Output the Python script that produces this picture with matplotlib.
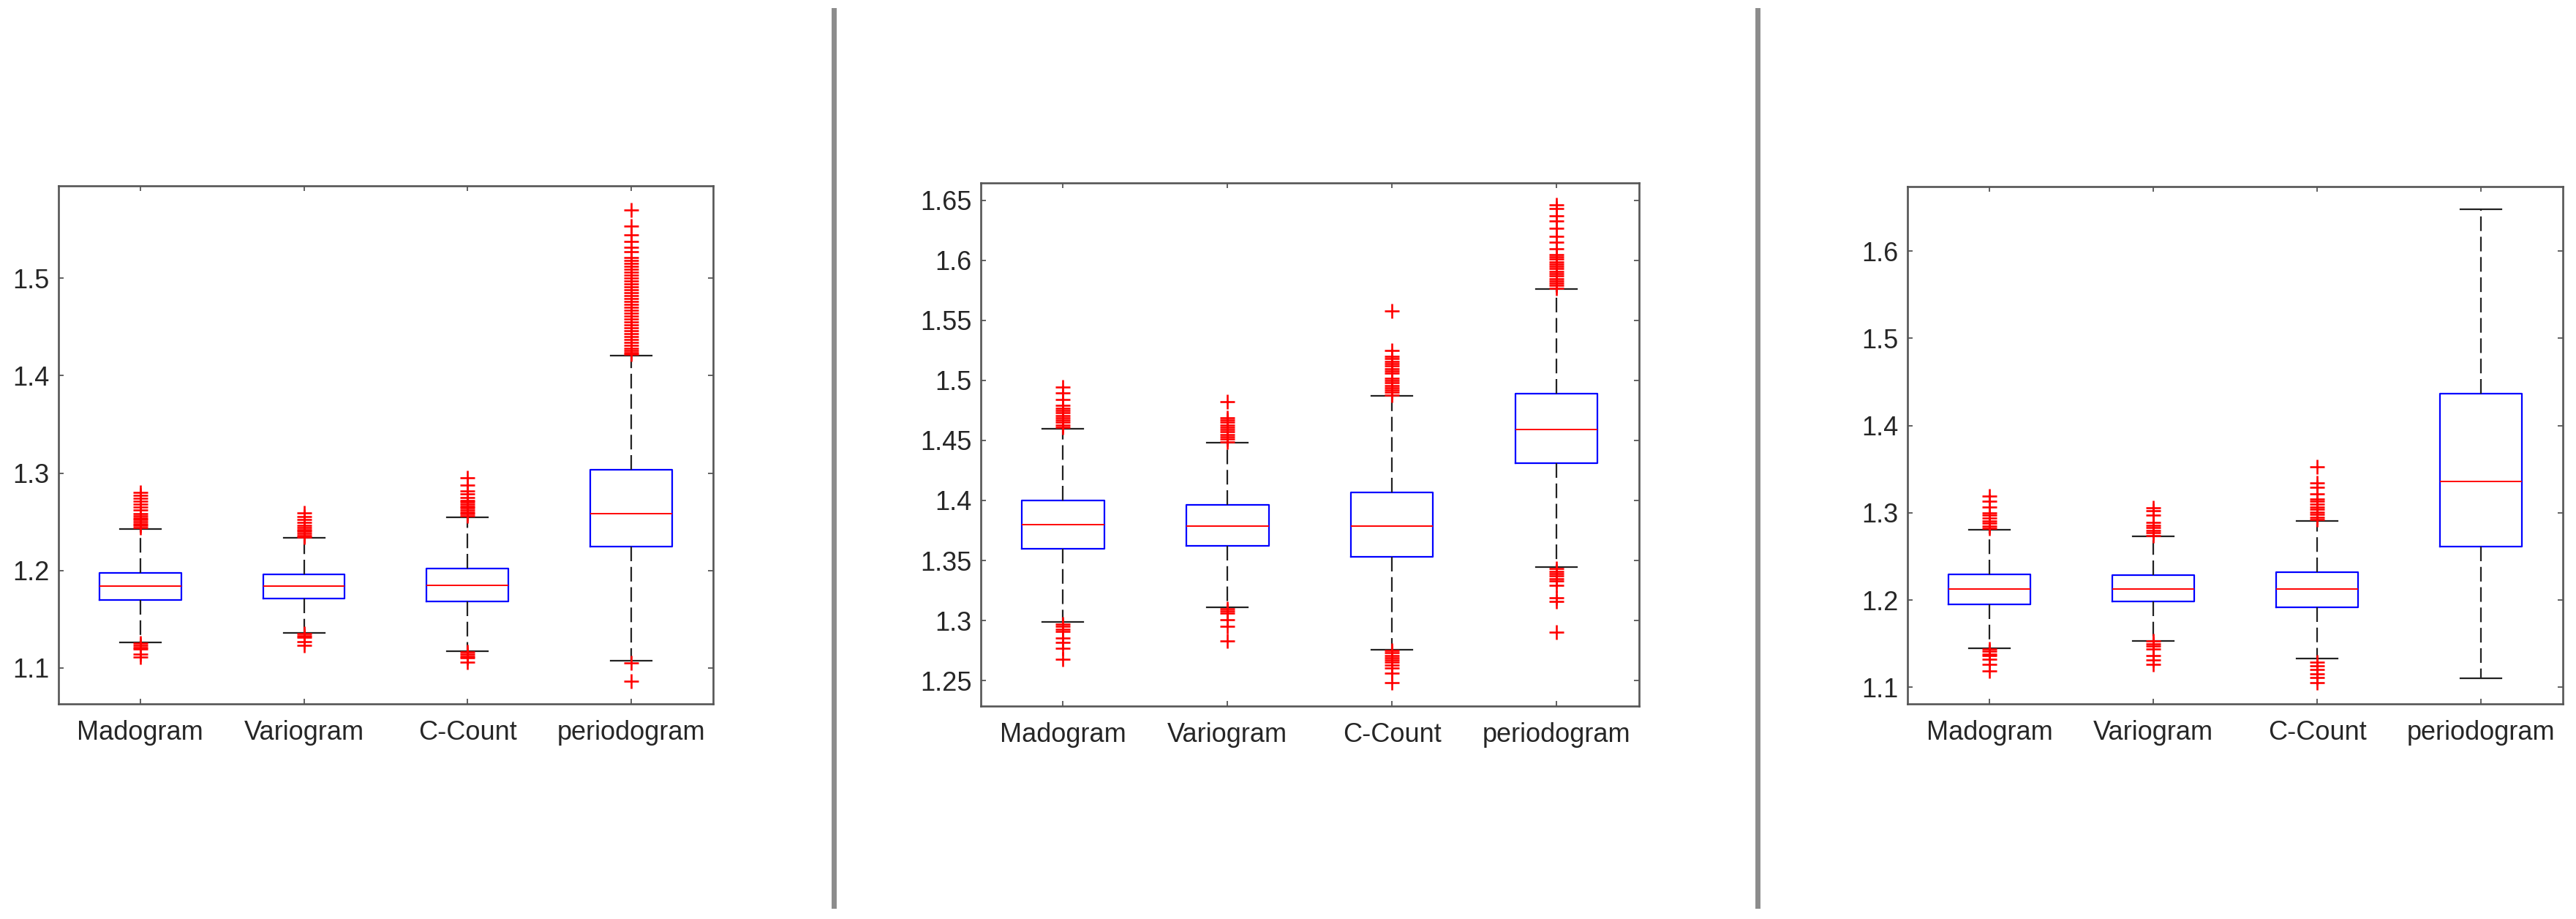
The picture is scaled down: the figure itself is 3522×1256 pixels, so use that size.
import matplotlib
matplotlib.use("Agg")
import matplotlib.pyplot as plt
from matplotlib.lines import Line2D

plt.rcParams['font.family'] = ['Liberation Sans', 'DejaVu Sans']

# categories shared by the three panels
methods = ["Madogram", "Variogram", "C-Count", "periodogram"]

# ---- panel 1 ----
med1 = [1.1837, 1.1837, 1.1850, 1.2581]
q1_1 = [1.1695, 1.1710, 1.1680, 1.2244]
q3_1 = [1.1976, 1.1960, 1.2020, 1.3033]
wlo1 = [1.1264, 1.1358, 1.1170, 1.1073]
whi1 = [1.2427, 1.2333, 1.2549, 1.4207]
fl1_mad = [1.244, 1.246, 1.248, 1.250, 1.252, 1.254, 1.256, 1.258, 1.262, 1.265,
           1.268, 1.271, 1.274, 1.277, 1.280,
           1.125, 1.123, 1.121, 1.119, 1.114, 1.111]
fl1_var = [1.234, 1.236, 1.238, 1.240, 1.242, 1.244, 1.246, 1.249, 1.252, 1.255, 1.259,
           1.135, 1.133, 1.131, 1.127, 1.123]
fl1_cc = [1.256, 1.258, 1.260, 1.262, 1.264, 1.266, 1.268, 1.270, 1.272, 1.275, 1.279,
          1.282, 1.288, 1.295,
          1.116, 1.114, 1.112, 1.110, 1.106]
fl1_per = [1.422, 1.424, 1.426, 1.428, 1.431, 1.434, 1.437, 1.440, 1.443, 1.446, 1.449,
           1.452, 1.455, 1.458, 1.461, 1.464, 1.467, 1.470, 1.473, 1.476, 1.479,
           1.482, 1.485, 1.488, 1.491, 1.494, 1.497, 1.500, 1.503, 1.506, 1.509,
           1.512, 1.515, 1.518, 1.521, 1.527, 1.532, 1.538, 1.545, 1.554, 1.570,
           1.105, 1.086]
ylim1 = (1.063, 1.595)
yt1 = [1.1, 1.2, 1.3, 1.4, 1.5]
ytl1 = ["1.1", "1.2", "1.3", "1.4", "1.5"]

# ---- panel 2 ----
med2 = [1.3801, 1.3788, 1.3788, 1.4590]
q1_2 = [1.3597, 1.3620, 1.3530, 1.4310]
q3_2 = [1.4002, 1.3965, 1.4069, 1.4891]
wlo2 = [1.2985, 1.3112, 1.2758, 1.3443]
whi2 = [1.4600, 1.4483, 1.4871, 1.5764]
fl2_mad = [1.461, 1.463, 1.465, 1.467, 1.469, 1.471, 1.473, 1.475, 1.477, 1.479,
           1.484, 1.4895, 1.4945,
           1.297, 1.295, 1.293, 1.291, 1.2855, 1.282, 1.277, 1.268]
fl2_var = [1.449, 1.451, 1.453, 1.455, 1.457, 1.459, 1.461, 1.463, 1.465, 1.467, 1.469,
           1.482,
           1.310, 1.308, 1.306, 1.3005, 1.295, 1.283]
fl2_cc = [1.488, 1.490, 1.492, 1.494, 1.496, 1.498, 1.500, 1.502, 1.506, 1.508,
          1.510, 1.512, 1.514, 1.516, 1.518, 1.520, 1.525, 1.558,
          1.275, 1.273, 1.271, 1.269, 1.267, 1.265, 1.263, 1.2605, 1.256, 1.248]
fl2_per = [1.577, 1.579, 1.581, 1.583, 1.585, 1.587, 1.589, 1.591, 1.593, 1.595,
           1.597, 1.599, 1.601, 1.603, 1.605, 1.610, 1.615, 1.620, 1.627, 1.633,
           1.637, 1.643, 1.646,
           1.343, 1.341, 1.339, 1.337, 1.335, 1.333, 1.329, 1.319, 1.316, 1.290]
ylim2 = (1.2287, 1.6646)
yt2 = [1.25, 1.30, 1.35, 1.40, 1.45, 1.50, 1.55, 1.60, 1.65]
ytl2 = ["1.25", "1.3", "1.35", "1.4", "1.45", "1.5", "1.55", "1.6", "1.65"]

# ---- panel 3 ----
med3 = [1.2126, 1.2126, 1.2126, 1.3358]
q1_3 = [1.1949, 1.1981, 1.1916, 1.2614]
q3_3 = [1.2298, 1.2284, 1.2316, 1.4363]
wlo3 = [1.1447, 1.1535, 1.1326, 1.1102]
whi3 = [1.2805, 1.2730, 1.2907, 1.6479]
fl3_mad = [1.282, 1.285, 1.288, 1.291, 1.294, 1.297, 1.300, 1.307, 1.313, 1.319,
           1.144, 1.141, 1.138, 1.136, 1.132, 1.126, 1.119]
fl3_var = [1.274, 1.277, 1.280, 1.283, 1.286, 1.289, 1.297, 1.302, 1.306,
           1.153, 1.150, 1.147, 1.144, 1.136, 1.131, 1.126]
fl3_cc = [1.292, 1.295, 1.298, 1.301, 1.304, 1.307, 1.310, 1.313, 1.316, 1.322,
          1.329, 1.334, 1.353,
          1.129, 1.125, 1.120, 1.115, 1.111, 1.105]
fl3_per = []
ylim3 = (1.081, 1.674)
yt3 = [1.1, 1.2, 1.3, 1.4, 1.5, 1.6]
ytl3 = ["1.1", "1.2", "1.3", "1.4", "1.5", "1.6"]

panels = [
    (med1, q1_1, q3_1, wlo1, whi1, [fl1_mad, fl1_var, fl1_cc, fl1_per], ylim1, yt1, ytl1),
    (med2, q1_2, q3_2, wlo2, whi2, [fl2_mad, fl2_var, fl2_cc, fl2_per], ylim2, yt2, ytl2),
    (med3, q1_3, q3_3, wlo3, whi3, [fl3_mad, fl3_var, fl3_cc, fl3_per], ylim3, yt3, ytl3),
]

# axes rectangles in figure fractions (left, bottom, width, height)
rects = [
    [0.0227, 0.2341, 0.2541, 0.5637],
    [0.3807, 0.2317, 0.2555, 0.5693],
    [0.7405, 0.2341, 0.2544, 0.5629],
]

fig = plt.figure(figsize=(35.22, 12.56), dpi=100)
txt = '#262626'
spine = '#555555'

for (med, q1, q3, wlo, whi, fl, ylim, yt, ytl), r in zip(panels, rects):
    ax = fig.add_axes(r)
    stats = []
    for i in range(4):
        stats.append(dict(med=med[i], q1=q1[i], q3=q3[i], whislo=wlo[i],
                          whishi=whi[i], fliers=fl[i]))
    ax.bxp(stats, positions=[1, 2, 3, 4], widths=0.5, showfliers=True,
           boxprops=dict(color='#0000ff', linewidth=1.6),
           medianprops=dict(color='#ff0000', linewidth=1.4),
           whiskerprops=dict(color='#222222', linewidth=1.6, linestyle=(0, (9, 3.5))),
           capprops=dict(color='#222222', linewidth=1.6),
           flierprops=dict(marker='+', markeredgecolor='#ff0000', markersize=14,
                           markeredgewidth=1.9, linestyle='none'))
    ax.set_xlim(0.5, 4.5)
    ax.set_ylim(*ylim)
    ax.set_xticks([1, 2, 3, 4])
    ax.set_xticklabels(methods)
    ax.set_yticks(yt)
    ax.set_yticklabels(ytl)
    ax.tick_params(axis='both', direction='in', length=5, width=1.3, color=spine,
                   labelsize=26, labelcolor=txt, top=True, right=True)
    ax.tick_params(axis='x', pad=16)
    ax.tick_params(axis='y', pad=9)
    for s in ax.spines.values():
        s.set_color(spine)
        s.set_linewidth(1.9)

# grey vertical separators between the panels
for xs in [1140 / 3522, 2403 / 3522]:
    fig.add_artist(Line2D([xs, xs], [0.0143, 0.9889], transform=fig.transFigure,
                          color='#8c8c8c', linewidth=5))

fig.savefig("out.png", dpi=100, facecolor='white')
